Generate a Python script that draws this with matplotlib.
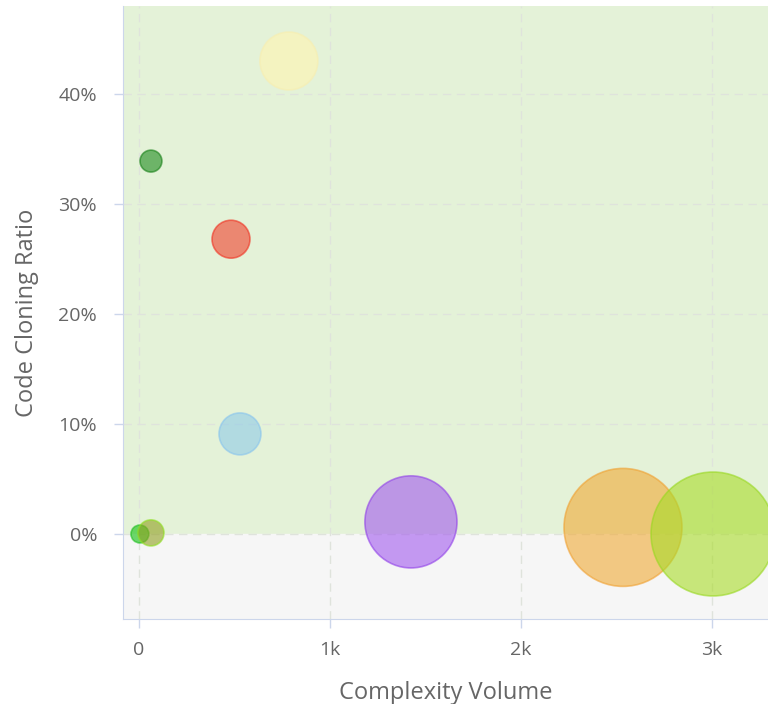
import matplotlib
matplotlib.use("Agg")
import matplotlib.pyplot as plt
import numpy as np
from matplotlib.ticker import FuncFormatter, MultipleLocator

# complexity volume, cloning ratio (%), bubble weight
volume = [785, 63, 482, 529, 5, 63, 1424, 2534, 3005]
cloning = [43.0, 33.9, 26.8, 9.1, 0.0, 0.1, 1.1, 0.6, 0.0]
weight = [840, 120, 360, 440, 80, 170, 2120, 3480, 3840]
colors = ["#fff5b0", "#1e8c1e", "#f0402c", "#8fcbe8", "#10c010",
          "#8fa020", "#a259ee", "#f0aa35", "#a8dc28"]
edges = ["#f8eeb0", "#178017", "#f03020", "#88c4ee", "#20c020",
         "#8ee020", "#9040e8", "#f0a030", "#98d820"]

plt.rcParams.update({"font.family": ["Open Sans", "DejaVu Sans"]})
figure = plt.figure(figsize=(7.68, 7.04), dpi=100)
axis = figure.add_axes([0.160, 0.1207, 0.840, 0.8708])

axis.set_xlim(-84, 3293)
axis.set_ylim(-7.73, 48)
axis.axhspan(0, 48, color="#e4f2d8", zorder=0)
axis.axhspan(-7.73, 0, color="#f6f6f6", zorder=0)

px = 72 / figure.dpi
sizes = [(2 * np.sqrt(w) * px) ** 2 for w in weight]
axis.scatter(volume, cloning, s=sizes, c=colors, alpha=0.6,
             edgecolors=edges, linewidths=1.2, zorder=3)

axis.xaxis.set_major_locator(MultipleLocator(1000))
axis.yaxis.set_major_locator(MultipleLocator(10))
axis.xaxis.set_major_formatter(FuncFormatter(lambda v, _: "0" if v == 0 else f"{v / 1000:.0f}k"))
axis.yaxis.set_major_formatter(FuncFormatter(lambda v, _: f"{v:.0f}%"))
axis.grid(True, color="#dfe3dc", linestyle=(0, (6, 4)), linewidth=1, zorder=1)
axis.set_axisbelow(True)

for side in ("top", "right"):
    axis.spines[side].set_visible(False)
for side in ("left", "bottom"):
    axis.spines[side].set_color("#ccd6eb")
axis.tick_params(colors="#ccd6eb", labelcolor="#666666", labelsize=14,
                 length=6.5, width=1)
axis.tick_params(axis="y", pad=12)
axis.tick_params(axis="x", pad=9)

axis.set_xlabel("Complexity Volume", fontsize=17, color="#666666", labelpad=16)
axis.set_ylabel("Code Cloning Ratio", fontsize=17, color="#666666", labelpad=14)

figure.savefig("out.png", dpi=100)
